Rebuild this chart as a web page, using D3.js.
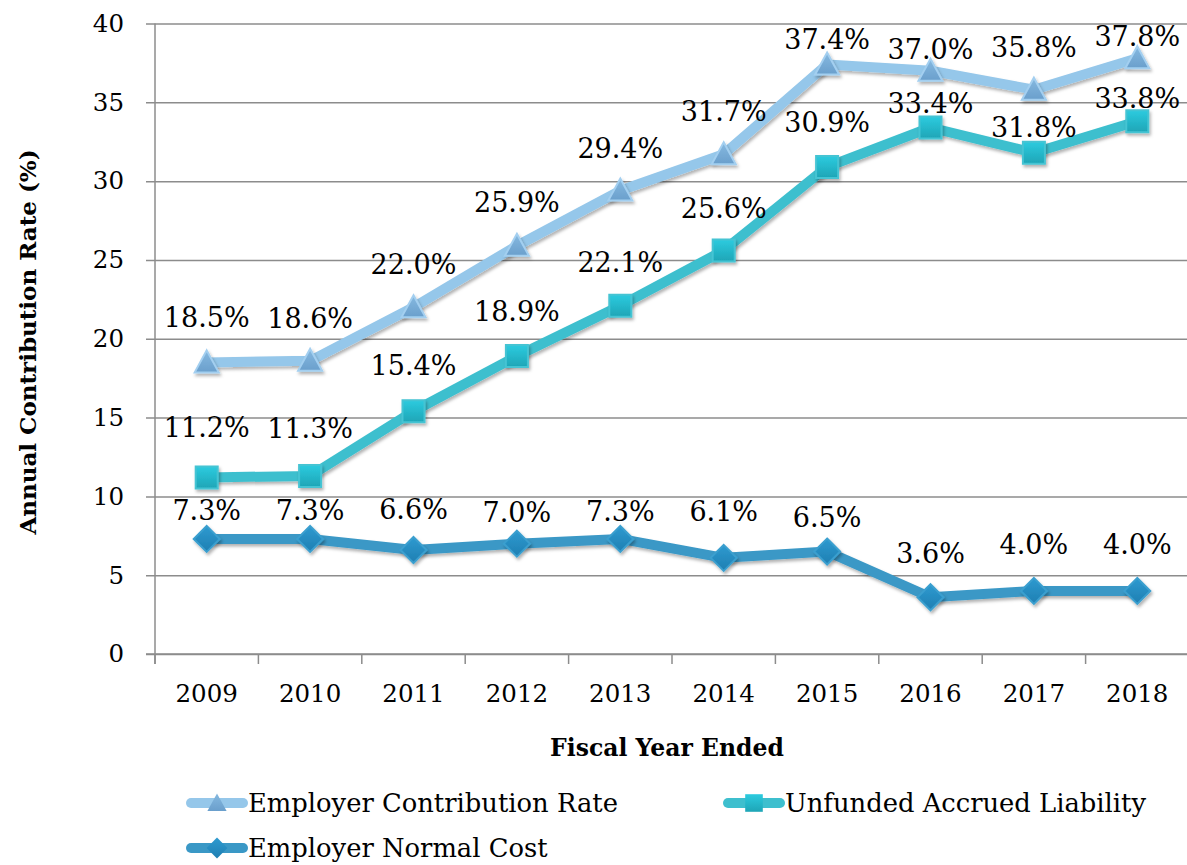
<!DOCTYPE html>
<html>
<head>
<meta charset="utf-8">
<script src="https://cdn.jsdelivr.net/npm/d3@7"></script>
<style>
  body { margin: 0; background: #fff; }
  svg { display: block; font-family: "DejaVu Serif", serif; }
</style>
</head>
<body>
<script>
var w = 1187;
var h = 865;

var years = ["2009", "2010", "2011", "2012", "2013", "2014", "2015", "2016", "2017", "2018"];
var contributionRate = [18.5, 18.6, 22.0, 25.9, 29.4, 31.7, 37.4, 37.0, 35.8, 37.8];
var unfundedLiability = [11.2, 11.3, 15.4, 18.9, 22.1, 25.6, 30.9, 33.4, 31.8, 33.8];
var normalCost = [7.3, 7.3, 6.6, 7.0, 7.3, 6.1, 6.5, 3.6, 4.0, 4.0];
var yTicks = [0, 5, 10, 15, 20, 25, 30, 35, 40];

// how far each value label sits above its point (px)
var liftCR = [45, 42, 43, 43, 42, 43, 25, 21, 42, 22];
var liftUAL = [50, 47, 46, 45, 43, 42, 44, 24, 25, 23];
var liftNC = [28, 28, 40, 31, 27, 46, 34, 44, 46, 46];

var series = [
  { name: "Employer Contribution Rate", values: contributionRate, lift: liftCR,
    line: "#95c7ea", marker: "triangle", top: "#86b9e0", bottom: "#6a9fcc", edge: "#a3cff0" },
  { name: "Unfunded Accrued Liability", values: unfundedLiability, lift: liftUAL,
    line: "#3ebfce", marker: "square", top: "#2ccbdf", bottom: "#1ea5b6", edge: "#45c4d3" },
  { name: "Employer Normal Cost", values: normalCost, lift: liftNC,
    line: "#3a98c6", marker: "diamond", top: "#2e9ad0", bottom: "#1f7fb2", edge: "#3a9fcf" }
];

var x = d3.scaleBand().domain(years).range([155, 1189]).padding(0);
var y = d3.scaleLinear().domain([0, 40]).range([654, 23.5]);

var svg = d3.select("body").append("svg")
  .attr("width", w)
  .attr("height", h);

var defs = svg.append("defs");
var shadow = defs.append("filter").attr("id", "shadow")
  .attr("x", "-30%").attr("y", "-30%").attr("width", "160%").attr("height", "160%");
shadow.append("feDropShadow")
  .attr("dx", 1.5).attr("dy", 2.5).attr("stdDeviation", 1.8)
  .attr("flood-color", "#000").attr("flood-opacity", 0.3);

series.forEach(function(s, i) {
  var g = defs.append("linearGradient").attr("id", "grad" + i)
    .attr("x1", 0).attr("y1", 0).attr("x2", 0).attr("y2", 1);
  g.append("stop").attr("offset", "0%").attr("stop-color", s.top);
  g.append("stop").attr("offset", "100%").attr("stop-color", s.bottom);
});

// gridlines + y axis
var yAxis = d3.axisLeft(y)
  .tickValues(yTicks)
  .tickSize(-(1189 - 146))
  .tickPadding(22)
  .tickFormat(d3.format("d"));

var gy = svg.append("g")
  .attr("transform", "translate(146,0)")
  .call(yAxis);
gy.select(".domain").remove();
gy.selectAll(".tick line").attr("stroke", "#8c8c8c").attr("stroke-width", 1.5);
gy.selectAll(".tick text")
  .attr("x", -22)
  .attr("font-size", 24.5)
  .attr("font-family", "DejaVu Serif")
  .attr("fill", "#000");

svg.append("line")
  .attr("x1", 155).attr("x2", 155)
  .attr("y1", 23.5).attr("y2", 664)
  .attr("stroke", "#8c8c8c").attr("stroke-width", 1.5);

// x axis
var gx = svg.append("g")
  .attr("transform", "translate(0,654)");
gx.append("line")
  .attr("x1", 146).attr("x2", 1189)
  .attr("stroke", "#8c8c8c").attr("stroke-width", 1.5);
gx.selectAll("line.sep")
  .data(years.concat(["end"]))
  .enter()
  .append("line")
  .attr("class", "sep")
  .attr("x1", function(d, i) { return 155 + i * x.bandwidth(); })
  .attr("x2", function(d, i) { return 155 + i * x.bandwidth(); })
  .attr("y1", 0).attr("y2", 10)
  .attr("stroke", "#8c8c8c").attr("stroke-width", 1.5);
gx.selectAll("text")
  .data(years)
  .enter()
  .append("text")
  .attr("x", function(d) { return x(d) + x.bandwidth() / 2; })
  .attr("y", 39)
  .attr("dy", "0.35em")
  .attr("text-anchor", "middle")
  .attr("font-size", 24.5)
  .text(function(d) { return d; });

// axis titles
svg.append("text")
  .attr("x", 667)
  .attr("y", 748)
  .attr("dy", "0.35em")
  .attr("text-anchor", "middle")
  .attr("font-size", 23.5)
  .attr("font-weight", "bold")
  .text("Fiscal Year Ended");

svg.append("text")
  .attr("transform", "rotate(-90)")
  .attr("x", -342)
  .attr("y", 28)
  .attr("dy", "0.35em")
  .attr("text-anchor", "middle")
  .attr("font-size", 23)
  .attr("font-weight", "bold")
  .text("Annual Contribution Rate (%)");

function markerPath(type) {
  if (type === "triangle") return "M0,-12L12,10L-12,10Z";
  if (type === "square") return "M-11,-11H11V11H-11Z";
  return "M0,-13L13,0L0,13L-13,0Z";
}

var line = d3.line()
  .x(function(d, i) { return x(years[i]) + x.bandwidth() / 2; })
  .y(function(d) { return y(d); });

series.forEach(function(s, si) {
  var g = svg.append("g");
  g.append("path")
    .datum(s.values)
    .attr("d", line)
    .attr("fill", "none")
    .attr("stroke", s.line)
    .attr("stroke-width", 10)
    .attr("stroke-linejoin", "round")
    .attr("filter", "url(#shadow)");
  g.selectAll("path.mk")
    .data(s.values)
    .enter()
    .append("path")
    .attr("class", "mk")
    .attr("transform", function(d, i) {
      return "translate(" + (x(years[i]) + x.bandwidth() / 2) + "," + y(d) + ")";
    })
    .attr("d", markerPath(s.marker))
    .attr("fill", "url(#grad" + si + ")")
    .attr("stroke", s.edge)
    .attr("stroke-width", 2)
    .attr("filter", "url(#shadow)");
});

// value labels
series.forEach(function(s) {
  svg.append("g").selectAll("text")
    .data(s.values)
    .enter()
    .append("text")
    .attr("x", function(d, i) { return x(years[i]) + x.bandwidth() / 2; })
    .attr("y", function(d, i) { return y(d) - s.lift[i]; })
    .attr("dy", "0.35em")
    .attr("text-anchor", "middle")
    .attr("font-size", 27)
    .attr("fill", "#000")
    .text(function(d) { return d.toFixed(1) + "%"; });
});

// legend
var legendPos = [[187, 803], [724, 803], [187, 848]];
series.forEach(function(s, si) {
  var lg = svg.append("g")
    .attr("transform", "translate(" + legendPos[si][0] + "," + legendPos[si][1] + ")");
  lg.append("line")
    .attr("x1", 4).attr("x2", 56)
    .attr("stroke", s.line)
    .attr("stroke-width", 10)
    .attr("stroke-linecap", "round");
  lg.append("path")
    .attr("transform", "translate(30,0) scale(0.8)")
    .attr("d", markerPath(s.marker))
    .attr("fill", "url(#grad" + si + ")");
  lg.append("text")
    .attr("x", 61)
    .attr("dy", "0.35em")
    .attr("font-size", 25.8)
    .text(s.name);
});
</script>
</body>
</html>
